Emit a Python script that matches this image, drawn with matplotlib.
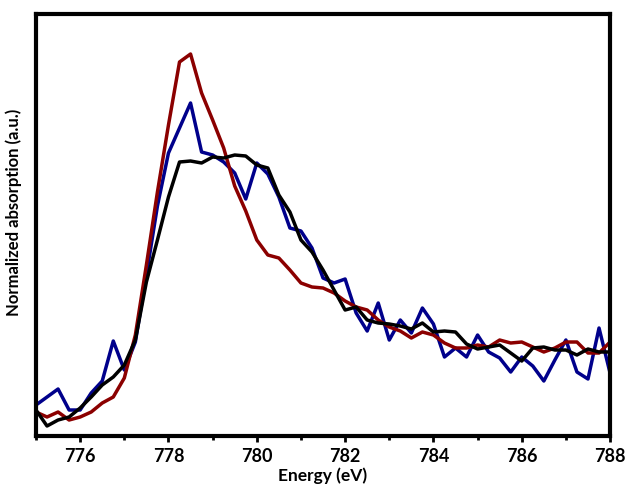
import numpy as np
import matplotlib
matplotlib.use('Agg')
import matplotlib.pyplot as plt
from matplotlib.ticker import MultipleLocator, NullLocator

# energy grid (eV), 0.25 eV steps
energy = np.arange(775.0, 788.01, 0.25)

blue = [0.31, 0.39, 0.47, 0.26, 0.26, 0.43, 0.55, 0.95, 0.66, 0.94,
        1.61, 2.30, 2.83, 3.08, 3.33, 2.84, 2.81, 2.74, 2.63, 2.37,
        2.73, 2.62, 2.39, 2.08, 2.05, 1.88, 1.58, 1.53, 1.57, 1.23,
        1.05, 1.33, 0.96, 1.16, 1.03, 1.28, 1.12, 0.79, 0.88, 0.79,
        1.01, 0.84, 0.78, 0.64, 0.79, 0.70, 0.55, 0.76, 0.96, 0.64,
        0.57, 1.08, 0.63]

red = [0.24, 0.19, 0.24, 0.16, 0.19, 0.24, 0.33, 0.39, 0.58, 1.01,
       1.71, 2.44, 3.11, 3.74, 3.82, 3.43, 3.16, 2.88, 2.50, 2.25,
       1.96, 1.81, 1.78, 1.66, 1.53, 1.49, 1.48, 1.43, 1.35, 1.29,
       1.26, 1.16, 1.09, 1.05, 0.98, 1.04, 1.01, 0.93, 0.88, 0.88,
       0.91, 0.89, 0.96, 0.93, 0.94, 0.89, 0.84, 0.88, 0.94, 0.94,
       0.83, 0.83, 0.94]

black = [0.26, 0.10, 0.16, 0.19, 0.28, 0.39, 0.51, 0.59, 0.71, 0.96,
         1.54, 1.96, 2.39, 2.74, 2.75, 2.73, 2.79, 2.78, 2.81, 2.80,
         2.71, 2.68, 2.41, 2.24, 1.96, 1.84, 1.66, 1.46, 1.26, 1.29,
         1.16, 1.13, 1.12, 1.10, 1.07, 1.13, 1.04, 1.05, 1.04, 0.92,
         0.87, 0.89, 0.91, 0.83, 0.75, 0.88, 0.89, 0.86, 0.86, 0.81,
         0.87, 0.84, 0.84]

plt.rcParams['font.family'] = ['Lato', 'DejaVu Sans']
plt.rcParams['font.weight'] = 'bold'

fig = plt.figure(figsize=(6.27, 4.93), dpi=100)
ax = fig.add_axes([0.0574, 0.1156, 0.9156, 0.856])

lw = 2.5
ax.plot(energy, blue, color='#00008b', lw=lw)
ax.plot(energy, red, color='#8b0000', lw=lw)
ax.plot(energy, black, color='black', lw=lw)

ax.set_xlim(775, 788)
ax.set_ylim(0, 4.22)

for sp in ax.spines.values():
    sp.set_linewidth(3)

ax.xaxis.set_major_locator(MultipleLocator(2))
ax.xaxis.set_minor_locator(MultipleLocator(1))
ax.yaxis.set_major_locator(NullLocator())
ax.tick_params(axis='x', which='major', direction='out', length=4.5, width=2,
               labelsize=13, pad=4)
ax.tick_params(axis='x', which='minor', direction='out', length=2.8, width=2)

ax.set_xlabel('Energy (eV)', fontsize=12.5, fontweight='bold', labelpad=2)
ax.set_ylabel('Normalized absorption (a.u.)', fontsize=12, fontweight='bold', labelpad=6)
ax.yaxis.set_label_coords(-0.025, 0.53)

fig.savefig('out.png', dpi=100)
